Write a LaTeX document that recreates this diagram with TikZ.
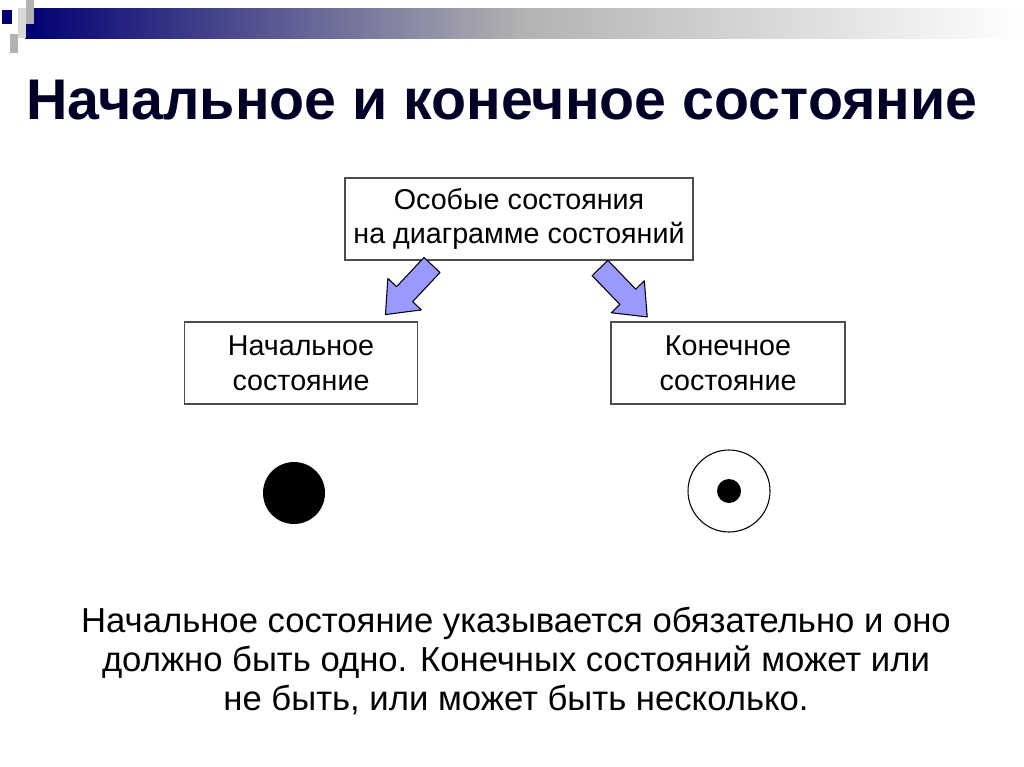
\documentclass[tikz,border=0pt]{standalone}
\usepackage{fontspec}
\setmainfont{Liberation Sans}

\begin{document}
\begin{tikzpicture}[x=0.75pt,y=-0.75pt,
	statebox/.style={draw=black!70, thick, fill=white, align=center, font=\fontsize{21.5}{26}\selectfont, inner sep=0pt},
	blockarrow/.pic={\filldraw[fill=blue!40!white, draw=black, thick, line join=round] (0,-11) -- (40,-11) -- (40,-23) -- (68,0) -- (40,23) -- (40,11) -- (0,11) -- cycle;}]

	% page size
	\useasboundingbox (0,0) rectangle (1024,767);
	\fill[white] (0,0) rectangle (1024,767);

	% header bar with squares
	\shade[left color=blue!45!black, right color=white, middle color=black!30] (25,9) rectangle (1024,39);
	\fill[blue!45!black] (2,10) rectangle (12,24);
	\fill[black!15] (18,8) rectangle (32,24);
	\fill[black!30] (26,0) rectangle (34,24);
	\fill[black!30] (10,34) rectangle (18,53);
	\fill[black!15] (18,24) rectangle (26,38);

	% title
	\node[text=blue!15!black] (title) at (502,100) {\fontsize{43}{47}\selectfont\bfseries Начальное и конечное состояние};

	% boxes
	\node[statebox, minimum width=348*0.75pt, minimum height=82*0.75pt] (special) at (519,219) {Особые состояния\\на диаграмме состояний};
	\node[statebox, minimum width=233*0.75pt, minimum height=82*0.75pt] (initial) at (301,363) {Начальное\\состояние};
	\node[statebox, minimum width=234*0.75pt, minimum height=82*0.75pt] (final) at (728,363) {Конечное\\состояние};

	% block arrows
	\pic[rotate=226.8] at (432,265) {blockarrow};
	\pic[rotate=-46] at (600,268) {blockarrow};

	% state symbols
	\fill (294,493) circle (31);
	\draw[thick] (729,491) circle (41);
	\fill (729,491) circle (12);

	% note
	\node[align=center, font=\fontsize{26}{29}\selectfont] (note) at (516,661) {Начальное состояние указывается обязательно и оно\\должно быть одно. Конечных состояний может или\\не быть, или может быть несколько.};

\end{tikzpicture}
\end{document}
